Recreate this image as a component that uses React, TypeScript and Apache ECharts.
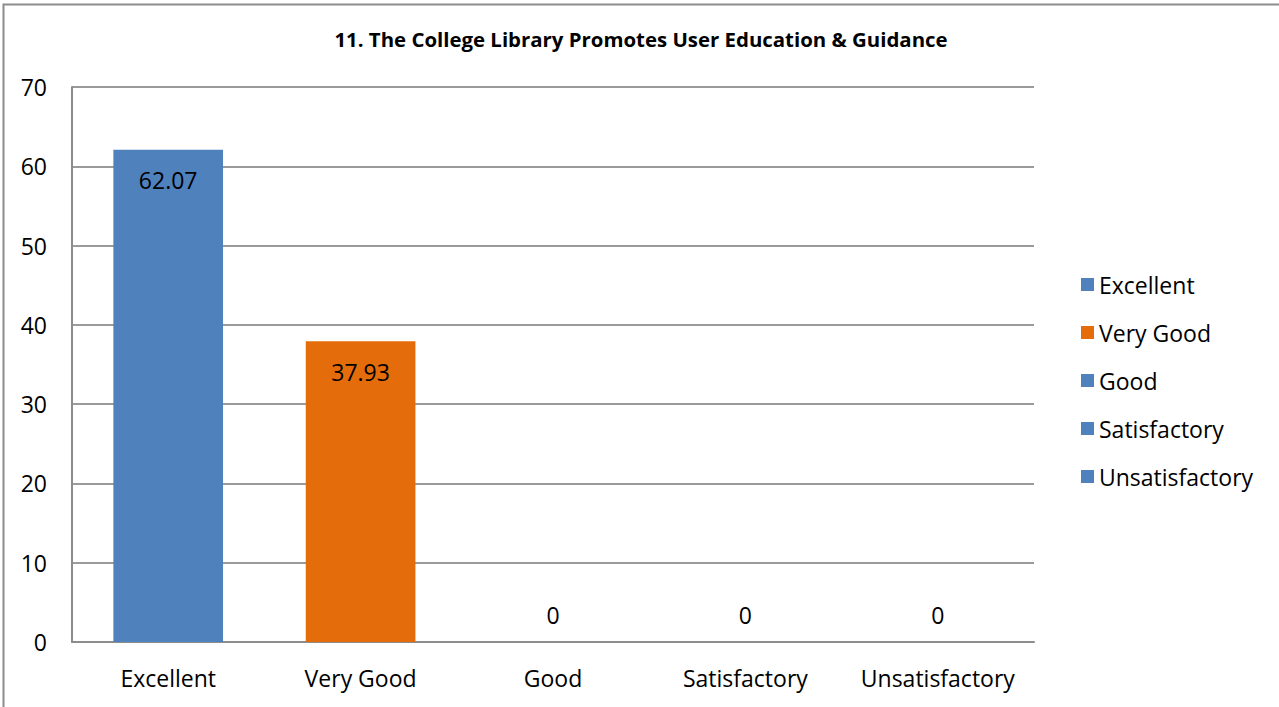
import React, { useEffect, useRef } from "react";
import * as echarts from "echarts";

const categories = ["Excellent", "Very Good", "Good", "Satisfactory", "Unsatisfactory"];
const values = [62.07, 37.93, 0, 0, 0];
const colors = ["#4F81BD", "#E46C0A", "#4F81BD", "#4F81BD", "#4F81BD"];
const yTicks = [0, 10, 20, 30, 40, 50, 60, 70];
const titleText = "11. The College Library Promotes User Education & Guidance";

const FONT = "Open Sans";
const FS = 23;

export default function App() {
  const ref = useRef<HTMLDivElement>(null);
  useEffect(() => {
    if (!ref.current) return;
    const chart = echarts.init(ref.current, undefined, { renderer: "svg" });
    const series = categories.map((name, i) => ({
      name,
      type: "bar",
      stack: "all",
      barWidth: "57%",
      itemStyle: { color: colors[i] },
      data: categories.map((_, j) => {
        if (j !== i) return "-";
        const v = values[i];
        if (v === 0) {
          return { value: v, label: { position: "top", distance: 16 } };
        }
        return v;
      }),
      label: {
        show: true,
        position: "insideTop",
        distance: 19,
        color: "#000",
        fontFamily: FONT,
        fontSize: FS,
        formatter: (p: any) => String(p.value),
      },
    }));
    chart.setOption({
      animation: false,
      backgroundColor: "#fff",
      title: {
        text: titleText,
        left: 636,
        textAlign: "center",
        top: 24,
        textStyle: { fontFamily: FONT, fontWeight: "bold", fontSize: 20.4, color: "#000" },
      },
      legend: {
        orient: "vertical",
        left: 1076,
        top: 268,
        icon: "rect",
        itemWidth: 13,
        itemHeight: 13,
        itemGap: 25,
        data: categories,
        textStyle: { fontFamily: FONT, fontSize: FS, color: "#000", padding: [0, 0, 0, 0] },
      },
      grid: { left: 72, right: 245, top: 87, bottom: 65, containLabel: false },
      xAxis: {
        type: "category",
        data: categories,
        axisTick: { show: false },
        axisLine: { lineStyle: { color: "#8c8c8c", width: 2 } },
        axisLabel: { fontFamily: FONT, fontSize: FS, color: "#000", margin: 24, interval: 0 },
      },
      yAxis: {
        type: "value",
        min: yTicks[0],
        max: yTicks[yTicks.length - 1],
        interval: 10,
        axisTick: { show: false },
        axisLine: { show: true, lineStyle: { color: "#8c8c8c", width: 2 } },
        splitLine: { lineStyle: { color: "#9a9a9a", width: 2 } },
        axisLabel: { fontFamily: FONT, fontSize: FS, color: "#000", margin: 25 },
      },
      graphic: [
        {
          type: "rect",
          shape: { x: 3.5, y: 4.5, width: 1300, height: 720 },
          style: { fill: "none", stroke: "#8c8c8c", lineWidth: 2 },
          silent: true,
        },
      ],
      series,
    });
    return () => chart.dispose();
  }, []);
  return (
    <div
      ref={ref}
      style={{ position: "absolute", left: 0, top: 0, width: 1279, height: 707 }}
    />
  );
}
